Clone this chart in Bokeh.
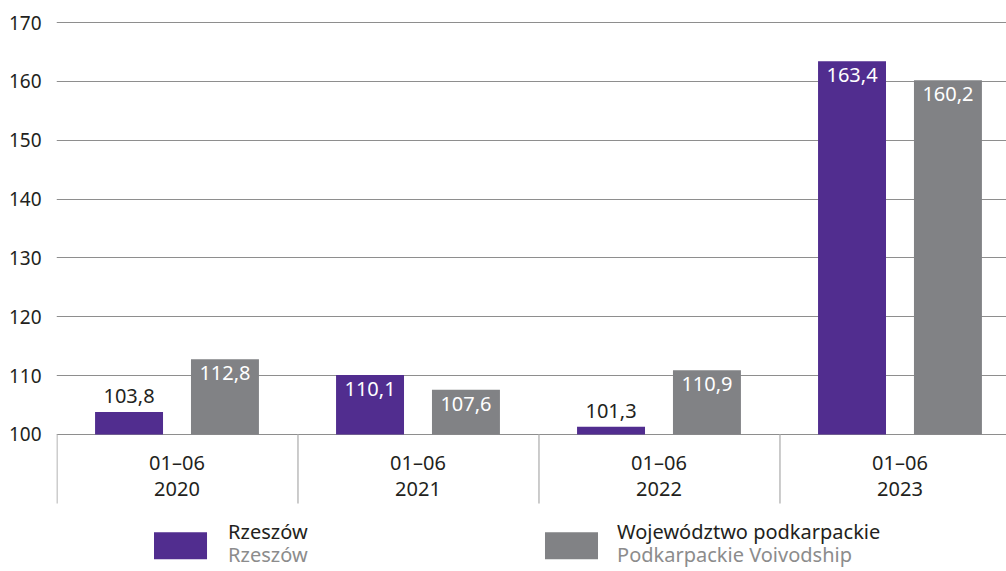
import numpy as np
from bokeh.plotting import figure
from bokeh.models import Range1d, FixedTicker, ColumnDataSource
from bokeh.core.properties import value
from bokeh.embed import file_html
from bokeh.resources import INLINE

# ---- data ----
periods = ["01–06", "01–06", "01–06", "01–06"]
years = ["2020", "2021", "2022", "2023"]
rzeszow = [103.8, 110.1, 101.3, 163.4]
podkarpackie = [112.8, 107.6, 110.9, 160.2]
series_pl = ["Rzeszów", "Województwo podkarpackie"]
series_en = ["Rzeszów", "Podkarpackie Voivodship"]
y_ticks = [100, 110, 120, 130, 140, 150, 160, 170]

PURPLE = "#512D8F"
GREY = "#818285"
DARK = "#231F20"
FONT = "Noto Sans"
FS = "20px"
BASE = 100

p = figure(width=1006, height=571, output_backend="svg", toolbar_location=None,
           x_range=Range1d(0, 3.942), y_range=Range1d(76.72, 171.02),
           min_border_left=56, min_border_right=0, min_border_top=16, min_border_bottom=0)
p.outline_line_color = None
p.background_fill_color = "white"
p.border_fill_color = "white"

# axes
p.xaxis.visible = False
p.yaxis.ticker = FixedTicker(ticks=y_ticks)
p.yaxis.axis_line_color = None
p.yaxis.major_tick_line_color = None
p.yaxis.minor_tick_line_color = None
p.yaxis.major_label_standoff = 9
p.yaxis.major_label_text_font = FONT
p.yaxis.major_label_text_font_size = "19px"
p.yaxis.major_label_text_color = DARK
p.xgrid.visible = False
p.ygrid.ticker = FixedTicker(ticks=y_ticks)
p.ygrid.grid_line_color = "#8E8E8E"
p.ygrid.grid_line_width = 1

n = len(years)
xc = np.arange(n) + 0.5
off = 0.199
bw = 0.282

# separators between categories
bounds = np.arange(n)
p.segment(x0=bounds + 0.002, y0=[BASE] * n, x1=bounds + 0.002, y1=[88.28] * n,
          line_color="#BBBBBB", line_width=1.5)

# bars
series = [(rzeszow, -off, PURPLE), (podkarpackie, off, GREY)]
for vals, o, col in series:
    p.vbar(x=xc + o, top=vals, bottom=BASE, width=bw, fill_color=col, line_color=None)

# value labels
for vals, o, col in series:
    v = np.array(vals)
    inside = (v - BASE) > 5
    lab = [f"{x:.1f}".replace(".", ",") for x in v]
    src_in = ColumnDataSource(dict(x=(xc + o)[inside], y=v[inside],
                                   t=[l for l, i in zip(lab, inside) if i]))
    src_out = ColumnDataSource(dict(x=(xc + o)[~inside], y=v[~inside],
                                    t=[l for l, i in zip(lab, inside) if not i]))
    p.text(x="x", y="y", text="t", source=src_in, text_align="center",
           text_baseline="alphabetic", y_offset=14, text_color="white",
           text_font=value(FONT), text_font_size=FS)
    p.text(x="x", y="y", text="t", source=src_out, text_align="center",
           text_baseline="alphabetic", y_offset=-16, text_color=DARK,
           text_font=value(FONT), text_font_size=FS)

# category labels
p.text(x=xc, y=[95.24] * n, text=periods, text_align="center", text_baseline="alphabetic",
       text_color=DARK, text_font=value(FONT), text_font_size=FS)
p.text(x=xc, y=[90.71] * n, text=years, text_align="center", text_baseline="alphabetic",
       text_color=DARK, text_font=value(FONT), text_font_size=FS)

# legend
leg_x = [0.4046, 2.027]
txt_x = [0.712, 2.326]
sw = 0.22
for i, col in enumerate([PURPLE, GREY]):
    p.quad(left=[leg_x[i]], right=[leg_x[i] + sw], top=[83.40], bottom=[78.81],
           fill_color=col, line_color=None)
    p.text(x=[txt_x[i]], y=[83.57], text=[series_pl[i]], text_align="left",
           text_baseline="alphabetic", text_color=DARK, text_font=value(FONT),
           text_font_size=FS)
    p.text(x=[txt_x[i]], y=[79.66], text=[series_en[i]], text_align="left",
           text_baseline="alphabetic", text_color="#8C8C8C", text_font=value(FONT),
           text_font_size=FS)

open("out.html", "w").write(file_html(p, INLINE))
